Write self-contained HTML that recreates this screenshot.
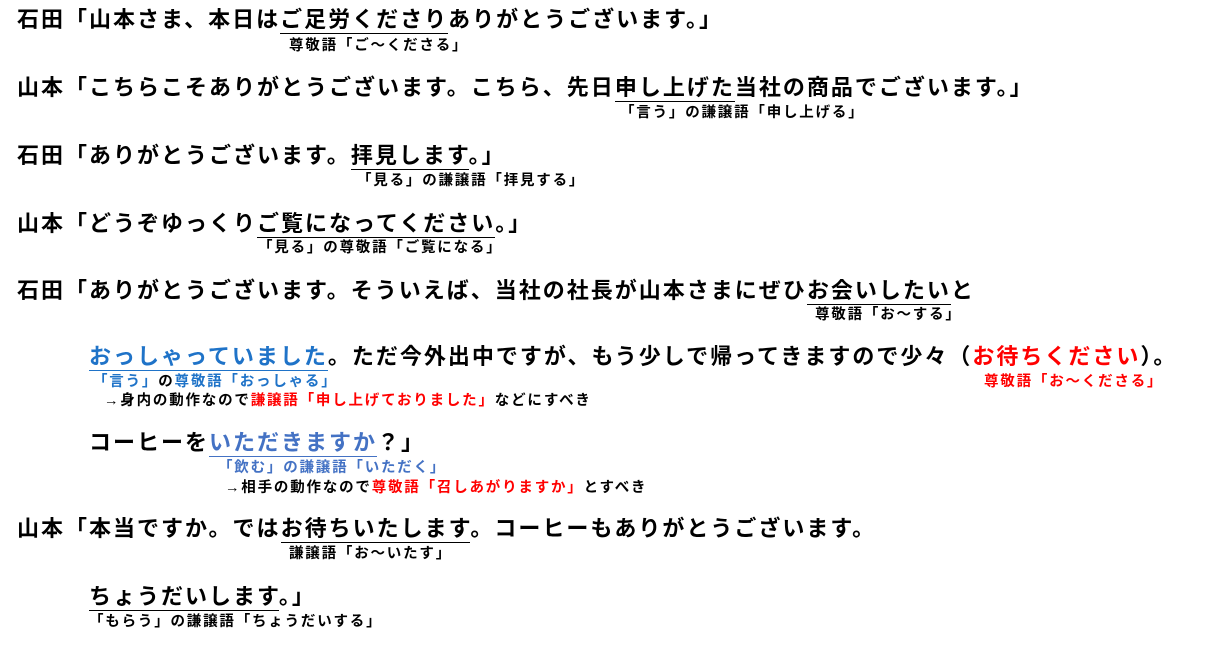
<!DOCTYPE html>
<html><head><meta charset="utf-8"><style>
body{margin:0;width:1205px;height:662px;background:#fff;position:relative;overflow:hidden;font-family:"Liberation Sans","Noto Sans CJK JP",sans-serif;}
.m{position:absolute;font-size:22px;line-height:24px;font-weight:bold;letter-spacing:2px;white-space:nowrap;color:#000;}
.a{position:absolute;font-size:14.5px;line-height:16px;font-weight:bold;letter-spacing:1.8px;white-space:nowrap;color:#000;}
.u{border-bottom:1.5px solid #000;padding-bottom:1px;}
.b{color:#1f73c8}.bu{color:#1f73c8;border-bottom:1.5px solid #1f73c8;padding-bottom:1px}
.l{color:#4472c4}.lu{color:#4472c4;border-bottom:1.5px solid #4472c4;padding-bottom:1px}
.r{color:#f00}
</style></head><body>
<div class="m" style="left:17px;top:8px">石田「山本さま、本日は<span class="u">ご足労くださり</span>ありがとうございます。」</div>
<div class="a" style="left:289px;top:38px">尊敬語「ご〜くださる」</div>

<div class="m" style="left:17px;top:76px">山本「こちらこそありがとうございます。こちら、先日<span class="u">申し上げた</span>当社の商品でございます。」</div>
<div class="a" style="left:620px;top:105px">「言う」の謙譲語「申し上げる」</div>

<div class="m" style="left:17px;top:144px">石田「ありがとうございます。<span class="u">拝見します</span>。」</div>
<div class="a" style="left:357px;top:173px">「見る」の謙譲語「拝見する」</div>

<div class="m" style="left:17px;top:212px">山本「どうぞゆっくり<span class="u">ご覧になってください</span>。」</div>
<div class="a" style="left:258px;top:240px">「見る」の尊敬語「ご覧になる」</div>

<div class="m" style="left:17px;top:279px">石田「ありがとうございます。そういえば、当社の社長が山本さまにぜひ<span class="u">お会いしたい</span>と</div>
<div class="a" style="left:815px;top:307px">尊敬語「お〜する」</div>

<div class="m" style="left:89px;top:345px"><span class="bu">おっしゃっていました</span>。ただ今外出中ですが、もう少しで帰ってきますので少々（<span class="r">お待ちください</span>）。</div>
<div class="a" style="left:93px;top:374px"><span class="b">「言う」</span>の<span class="b">尊敬語「おっしゃる」</span></div>
<div class="a r" style="left:984px;top:374px">尊敬語「お〜くださる」</div>
<div class="a" style="left:104px;top:393px">→身内の動作なので<span class="r">謙譲語「申し上げておりました」</span>などにすべき</div>

<div class="m" style="left:89px;top:431px">コーヒーを<span class="lu">いただきますか</span>？」</div>
<div class="a l" style="left:218px;top:460px">「飲む」の謙譲語「いただく」</div>
<div class="a" style="left:225px;top:480px">→相手の動作なので<span class="r">尊敬語「召しあがりますか」</span>とすべき</div>

<div class="m" style="left:17px;top:517px">山本「本当ですか。では<span class="u">お待ちいたします</span>。コーヒーもありがとうございます。</div>
<div class="a" style="left:289px;top:546px">謙譲語「お〜いたす」</div>

<div class="m" style="left:89px;top:585px"><span class="u">ちょうだいします</span>。」</div>
<div class="a" style="left:89px;top:614px">「もらう」の謙譲語「ちょうだいする」</div>
</body></html>
